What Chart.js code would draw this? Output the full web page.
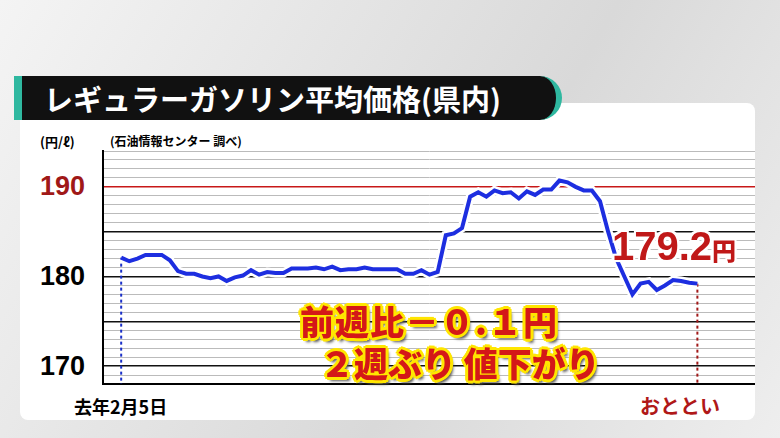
<!DOCTYPE html>
<html><head><meta charset="utf-8">
<script src="https://cdn.jsdelivr.net/npm/chart.js@4/dist/chart.umd.min.js"></script>
<style>
body{margin:0;width:780px;height:438px;overflow:hidden;background:linear-gradient(120deg,#f4f4f4,#d9d9d9 60%,#eeeeee);font-family:"Noto Sans CJK JP",sans-serif;position:relative}
.abs{position:absolute;white-space:nowrap}
#panel{left:20px;top:103px;width:735px;height:317px;background:#fff;border-radius:8px}
#title{left:14px;top:76px;width:548px;height:44px;background:#111;border-radius:0 22px 22px 0;border-right:6px solid #2fb8a0;border-left:8px solid #2fb8a0;color:#fff;font-weight:bold;font-size:29px;line-height:44px;padding-left:22px;box-sizing:border-box}
.yl{font-weight:bold;font-size:27px;font-family:"Liberation Sans",Arial,sans-serif}
.ann{font-size:34px;font-weight:900;color:#d41818;text-shadow:-2px -2px 0 #ffe600,2px -2px 0 #ffe600,-2px 2px 0 #ffe600,2px 2px 0 #ffe600,0 3px 0 #ffe600,3px 0 0 #ffe600,0 -3px 0 #ffe600,-3px 0 0 #ffe600,3px 4px 3px #555}
</style></head><body>
<div id="panel" class="abs"></div>
<div id="title" class="abs">レギュラーガソリン平均価格(県内)</div>
<div class="abs" style="left:40px;top:132px;font-size:13px;font-weight:bold">(円/ℓ)</div>
<div class="abs" style="left:110px;top:132px;font-size:12px;font-weight:bold">(石油情報センター 調べ)</div>
<div class="abs yl" style="left:40px;top:171px;color:#a01818">190</div>
<div class="abs yl" style="left:40px;top:261px">180</div>
<div class="abs yl" style="left:40px;top:351px">170</div>
<div class="abs" style="left:74px;top:393px;font-size:18px;font-weight:bold">去年2月5日</div>
<div class="abs" style="left:640px;top:391px;font-size:20px;font-weight:bold;color:#b01818">おととい</div>
<div class="abs" style="left:100px;top:148px;width:660px;height:240px"><canvas id="c"></canvas></div>
<div class="abs" style="left:612px;top:224px;font-size:40px;font-weight:900;color:#c01818;text-shadow:-2px -2px 0 #fff,2px -2px 0 #fff,-2px 2px 0 #fff,2px 2px 0 #fff,0 0 4px #fff;font-family:'Liberation Sans',sans-serif">179.2<span style="font-size:24px;font-family:'Noto Sans CJK JP'">円</span></div>
<div class="abs ann" style="left:300px;top:296px;letter-spacing:1px">前週比－０.１円</div>
<div class="abs ann" style="left:320px;top:338px">２週ぶり 値下がり</div>
<script>
// weekly average price (yen per litre), Feb 5 last year -> day before yesterday
const prices = [182.1,181.7,182.0,182.4,182.4,182.4,181.8,180.6,180.3,180.3,180.0,179.8,180.0,179.5,179.9,180.1,180.7,180.2,180.5,180.4,
  180.4,180.9,180.9,180.9,181.0,180.8,181.1,180.7,180.8,180.8,181.0,180.8,180.8,180.8,180.8,180.3,180.3,180.7,180.2,180.5,
  184.6,184.8,185.4,188.9,189.4,188.9,189.6,189.3,189.4,188.7,189.5,189.1,189.7,189.7,190.7,190.5,190.0,189.6,189.6,188.4,
  185.0,182.0,180.0,178.0,179.2,179.4,178.5,179.0,179.6,179.5,179.3,179.2];
const yMin = 168, yMax = 194;
const majorLines = [170,175,180,185];
const redLine = 190;

const pts = prices.map((v,i)=>({x:i,y:v}));
const last = prices.length-1;

const dotted = {
  id:'dotted',
  beforeDatasetsDraw(ch){
    const {ctx,scales:{x,y}} = ch;
    const draw=(i,col)=>{
      ctx.save();ctx.strokeStyle=col;ctx.lineWidth=2;ctx.setLineDash([3,3]);
      ctx.beginPath();ctx.moveTo(x.getPixelForValue(i),y.getPixelForValue(prices[i]));
      ctx.lineTo(x.getPixelForValue(i),y.bottom);ctx.stroke();ctx.restore();
    };
    draw(0,'#1a2fc8');draw(last,'#a01818');
  }
};

new Chart(document.getElementById('c'),{
  type:'line',
  data:{datasets:[
    {data:pts,borderColor:'#1d2ee0',borderWidth:4,pointRadius:0,tension:0,order:0},
    {data:pts,borderColor:'#ffffff',borderWidth:9,pointRadius:0,tension:0,order:1}
  ]},
  options:{
    responsive:true,maintainAspectRatio:false,animation:false,
    layout:{padding:{left:3,top:3,right:5,bottom:4}},
    plugins:{legend:{display:false},tooltip:{enabled:false}},
    scales:{
      x:{type:'linear',min:-2.24,max:78.1,display:false},
      y:{min:yMin,max:yMax,
        ticks:{display:false,stepSize:1},
        border:{display:true,color:'#000',width:2},
        grid:{drawTicks:false,
          color:c=>c.tick.value===redLine?'#c81818':(majorLines.includes(c.tick.value)?'#111':(c.tick.value===yMin?'#000':'#bbb')),
          lineWidth:c=>(majorLines.includes(c.tick.value)||c.tick.value===redLine)?1.5:(c.tick.value===yMin?2:1)}
      }
    }
  },
  plugins:[dotted]
});
</script>
</body></html>
